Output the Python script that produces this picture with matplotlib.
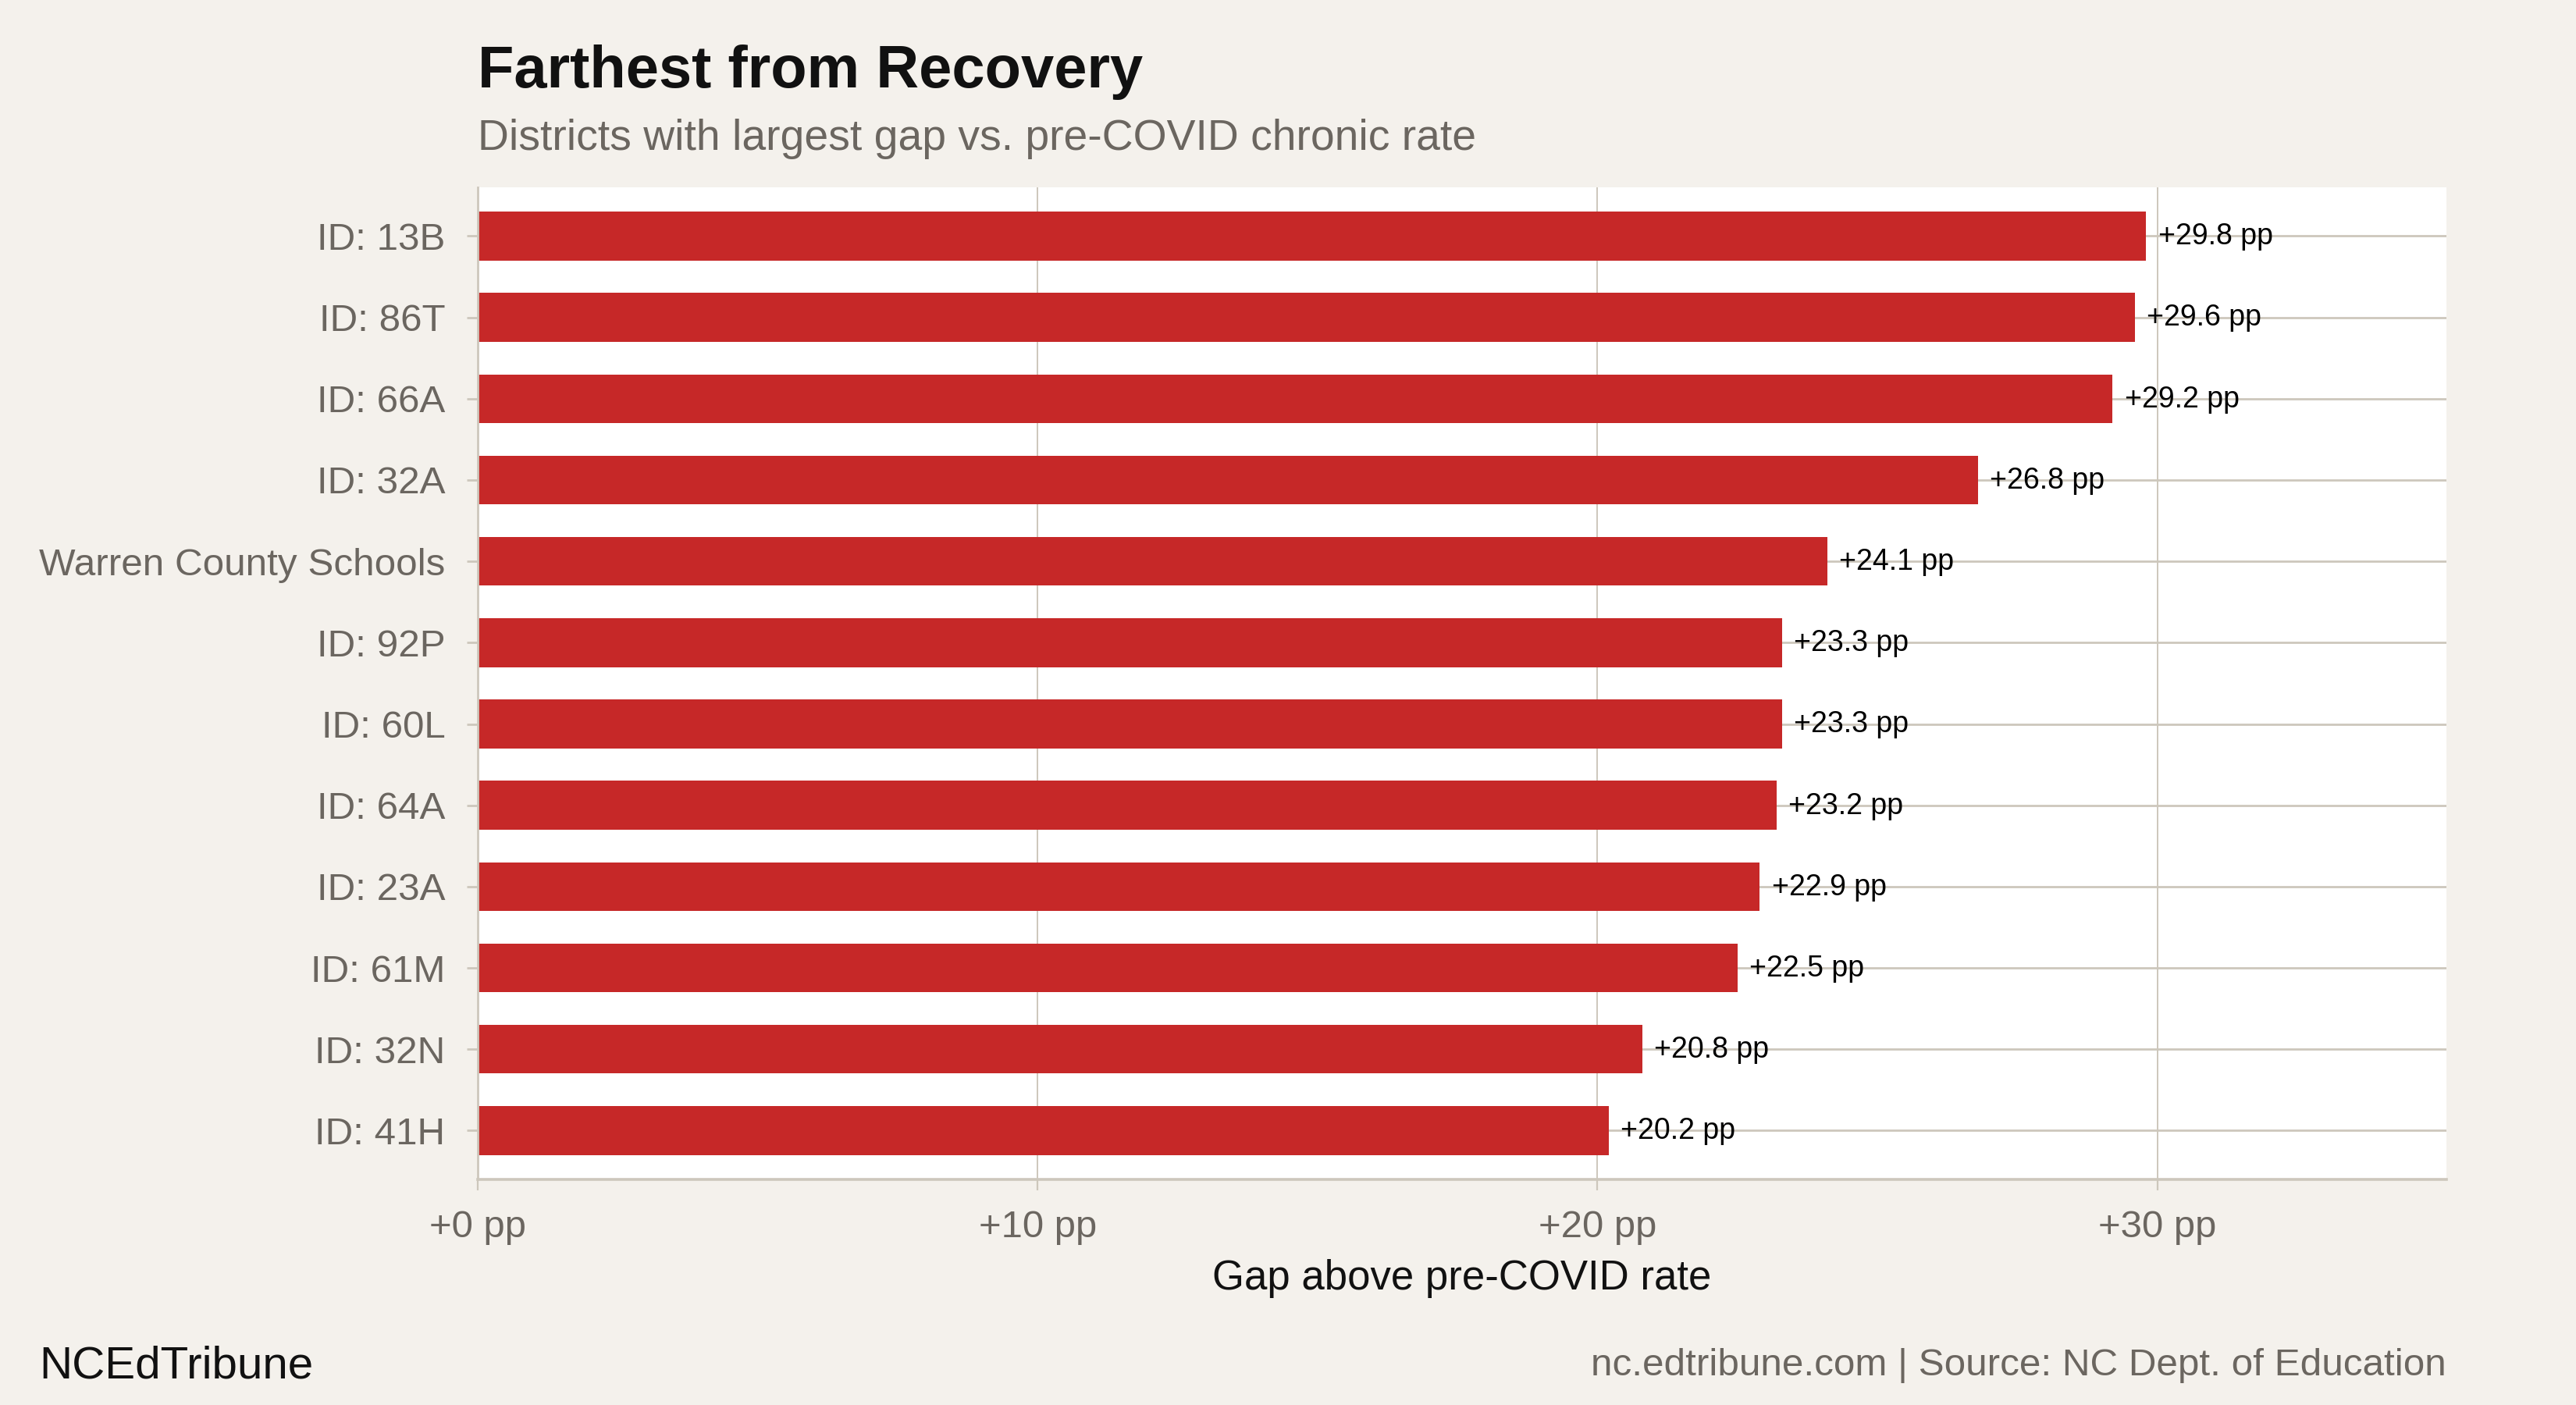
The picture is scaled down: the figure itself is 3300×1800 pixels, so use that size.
import matplotlib
matplotlib.use("Agg")
import matplotlib.pyplot as plt

districts = ["ID: 13B", "ID: 86T", "ID: 66A", "ID: 32A", "Warren County Schools",
             "ID: 92P", "ID: 60L", "ID: 64A", "ID: 23A", "ID: 61M", "ID: 32N", "ID: 41H"]
gaps = [29.8, 29.6, 29.2, 26.8, 24.1, 23.3, 23.3, 23.2, 22.9, 22.5, 20.8, 20.2]
xticks = [0, 10, 20, 30]
xtick_labels = ["+0 pp", "+10 pp", "+20 pp", "+30 pp"]

BG = "#f4f1ec"
BAR = "#c62828"
GRID = "#cdc7bc"
GRAY = "#6b6660"

plt.rcParams['font.family'] = ['Liberation Sans', 'DejaVu Sans']

fig = plt.figure(figsize=(16.5, 9), dpi=200, facecolor=BG)
ax = fig.add_axes([0.1855, 0.1606, 0.9497 - 0.1855, 0.8667 - 0.1606])
ax.set_facecolor("white")

ypos = list(range(len(districts)))
ax.barh(ypos, gaps, height=0.6, color=BAR, zorder=2)
ax.set_ylim(len(districts) - 1 + 0.6, -0.6)
ax.set_xlim(0, max(gaps) * 1.18)

ax.set_yticks(ypos)
ax.set_yticklabels(districts)
ax.set_xticks(xticks)
ax.set_xticklabels(xtick_labels)

ax.grid(axis='y', color=GRID, linewidth=1.0, zorder=0)
ax.grid(axis='x', color=GRID, linewidth=0.7, zorder=0)
ax.set_axisbelow(True)

for s in ['top', 'right']:
    ax.spines[s].set_visible(False)
ax.spines['left'].set_color(GRID)
ax.spines['left'].set_linewidth(1.0)
ax.spines['bottom'].set_color(GRID)
ax.spines['bottom'].set_linewidth(1.3)

ax.tick_params(axis='y', length=5, width=1.0, color=GRID, pad=10, labelsize=17.8, labelcolor=GRAY)
ax.tick_params(axis='x', length=5, width=0.8, color=GRID, pad=9, labelsize=17.7, labelcolor=GRAY)

for y, v in zip(ypos, gaps):
    ax.annotate(f"+{v:.1f} pp", xy=(v, y), xytext=(5.5, -0.3), textcoords='offset points',
                va='center', ha='left', fontsize=13.5, color='black', zorder=3)

fig.text(0.1855, 1 - 112 / 1800, "Farthest from Recovery", fontsize=27.3, fontweight='bold',
         color='#111111', ha='left', va='baseline')
fig.text(0.1855, 1 - 192 / 1800, "Districts with largest gap vs. pre-COVID chronic rate",
         fontsize=19.9, color=GRAY, ha='left', va='baseline')
fig.text((0.1855 + 0.9497) / 2, 1 - 1652 / 1800, "Gap above pre-COVID rate",
         fontsize=19, color='#111111', ha='center', va='baseline')
fig.text(0.0152, 1 - 1765 / 1800, "NCEdTribune", fontsize=21, color='#111111',
         ha='left', va='baseline')
fig.text(0.9497, 1 - 1762 / 1800, "nc.edtribune.com | Source: NC Dept. of Education",
         fontsize=17.8, color=GRAY, ha='right', va='baseline')

fig.savefig("out.png", dpi=200, facecolor=BG)
